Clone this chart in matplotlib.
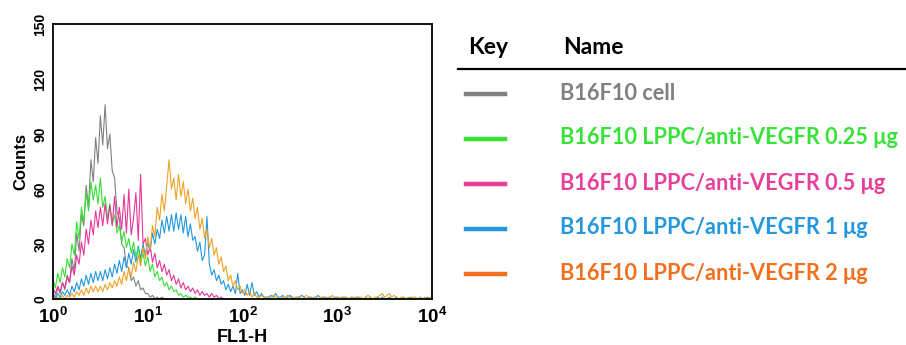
import numpy as np
import matplotlib
matplotlib.use('Agg')
from matplotlib import pyplot
from matplotlib.lines import Line2D

# FL1-H histogram counts, one value per channel (channels are 0.025 decades apart,
# starting at 10^0)
CHANNEL_STEP = 0.025

cell_counts = [
    3, 1, 6, 3, 9, 5, 13, 9, 22, 15,
    36, 26, 46, 40, 62, 50, 76, 64, 88, 74,
    100, 84, 106, 82, 90, 70, 66, 48, 44, 30,
    28, 18, 17, 10, 12, 7, 10, 5, 6, 3,
    3, 1, 2, 0, 1, 0, 1, 0, 0, 0,
]
dose_025_counts = [
    11, 6, 14, 9, 17, 12, 22, 17, 30, 24,
    42, 33, 50, 42, 58, 48, 64, 54, 62, 52,
    66, 50, 56, 44, 52, 41, 46, 36, 40, 31,
    37, 28, 33, 25, 31, 23, 28, 20, 25, 18,
    23, 15, 19, 12, 15, 10, 12, 7, 9, 5,
    7, 4, 5, 2, 3, 1, 2, 1, 1, 0,
    1, 0, 0,
]
dose_05_counts = [
    6, 3, 7, 4, 9, 6, 12, 9, 18, 13,
    24, 19, 31, 24, 38, 30, 43, 35, 48, 39,
    50, 40, 52, 41, 51, 40, 56, 39, 50, 38,
    57, 36, 60, 35, 44, 58, 32, 68, 30, 33,
    24, 29, 20, 25, 17, 21, 15, 19, 13, 16,
    10, 13, 8, 11, 6, 9, 5, 7, 4, 6,
    3, 5, 2, 4, 2, 3, 1, 3, 1, 2,
    0, 1, 0,
]
dose_1_counts = [
    2, 0, 3, 1, 4, 2, 5, 2, 7, 4,
    9, 5, 11, 7, 13, 8, 14, 9, 15, 10,
    15, 10, 16, 11, 17, 12, 19, 14, 21, 15,
    23, 17, 25, 19, 27, 20, 29, 22, 30, 24,
    31, 26, 36, 30, 38, 33, 43, 36, 45, 37,
    46, 37, 47, 38, 46, 36, 45, 34, 41, 32,
    34, 26, 31, 21, 24, 45, 19, 13, 16, 10,
    13, 8, 10, 5, 8, 4, 7, 3, 14, 3,
    5, 2, 8, 2, 9, 2, 4, 1, 3, 1,
    1, 1, 2, 1, 3, 1, 1, 2, 0, 1,
    2, 1, 0, 1, 1, 2, 1, 0, 1, 1,
    0, 1, 2, 0, 1, 1, 0, 1, 0, 1,
    1, 0, 1, 1, 0, 0, 1, 0, 1, 1,
    0, 0, 1, 0, 1, 0, 0, 1, 0, 1,
    0, 0, 1, 0, 0, 1, 0, 0, 1, 0,
    0, 1, 0, 0, 0, 1, 0, 0, 1, 0,
]
dose_2_counts = [
    1, 0, 1, 0, 2, 0, 2, 1, 3, 1,
    4, 2, 5, 2, 6, 3, 7, 4, 7, 4,
    7, 4, 8, 5, 9, 6, 10, 7, 12, 8,
    15, 10, 17, 12, 20, 15, 24, 18, 28, 22,
    34, 27, 40, 34, 50, 43, 57, 48, 62, 76,
    60, 66, 54, 68, 56, 64, 52, 60, 48, 55,
    44, 50, 38, 44, 33, 38, 28, 33, 24, 28,
    19, 23, 15, 18, 10, 13, 7, 10, 5, 7,
    3, 5, 2, 4, 1, 3, 1, 1, 2, 1,
    1, 0, 1, 2, 1, 1, 0, 1, 1, 2,
    1, 0, 1, 1, 1, 0, 1, 2, 1, 0,
    1, 1, 0, 1, 1, 0, 1, 1, 2, 0,
    1, 1, 0, 1, 1, 0, 1, 1, 0, 1,
    1, 0, 1, 2, 1, 0, 1, 1, 2, 3,
    1, 2, 3, 1, 2, 1, 0, 1, 1, 0,
    1, 0, 1, 1, 0, 1, 0, 1, 0, 1,
    0,
]

names = [
    'B16F10 cell',
    'B16F10 LPPC/anti-VEGFR 0.25 \u03bcg',
    'B16F10 LPPC/anti-VEGFR 0.5 \u03bcg',
    'B16F10 LPPC/anti-VEGFR 1 \u03bcg',
    'B16F10 LPPC/anti-VEGFR 2 \u03bcg',
]
series = [cell_counts, dose_025_counts, dose_05_counts, dose_1_counts, dose_2_counts]
line_colors = ['#808080', '#35e035', '#e8369a', '#2398de', '#f0a224']
key_colors = ['#808080', '#38e238', '#e8409a', '#2398de', '#f07020']

y_ticks = [0, 30, 60, 90, 120, 150]
x_ticks = [1, 10, 100, 1000, 10000]
x_tick_labels = [r'$\mathbf{10^{%d}}$' % k for k in range(5)]

matplotlib.rcParams['mathtext.fontset'] = 'custom'
matplotlib.rcParams['mathtext.bf'] = 'Liberation Sans:bold'
matplotlib.rcParams['mathtext.rm'] = 'Liberation Sans:bold'

fig = pyplot.figure(figsize=(9.06, 3.45), dpi=100)
ax = fig.add_axes([0.0585, 0.1333, 0.4183, 0.7971])

# gray at the back, the 2 ug histogram on top
draw_order = [0, 3, 1, 2, 4]
for i in draw_order:
    counts = series[i]
    fl1 = 10 ** (CHANNEL_STEP * np.arange(len(counts)))
    ax.plot(fl1, counts, color=line_colors[i], linewidth=0.8)

ax.set_xscale('log')
ax.set_xlim(1, 10000)
ax.set_ylim(0, 150)
ax.set_xticks(x_ticks)
ax.set_xticklabels(x_tick_labels, fontsize=13.5)
ax.xaxis.set_minor_locator(matplotlib.ticker.NullLocator())
ax.set_yticks(y_ticks)
ax.set_yticklabels([str(v) for v in y_ticks], rotation=90, va='center',
                   fontsize=10, fontfamily='Liberation Sans', fontweight='bold')
ax.tick_params(axis='both', length=0)
ax.tick_params(axis='x', pad=6)
ax.tick_params(axis='y', pad=4)
for spine in ax.spines.values():
    spine.set_linewidth(1.3)
ax.set_xlabel('FL1-H', fontsize=13, fontfamily='Liberation Sans',
              fontweight='bold', labelpad=1)
ax.set_ylabel('Counts', fontsize=12, fontfamily='Liberation Sans',
              fontweight='bold', labelpad=4)

# key table on the right, laid out in pixel units
key = fig.add_axes([0, 0, 1, 1])
key.set_xlim(0, 906)
key.set_ylim(345, 0)
key.set_axis_off()
font = ['Lato', 'DejaVu Sans']
key.text(468, 48, 'Key', fontsize=16.5, fontweight='bold', family=font,
         va='center', ha='left', color='black')
key.text(563, 48, 'Name', fontsize=16.5, fontweight='bold', family=font,
         va='center', ha='left', color='black')
key.add_line(Line2D([458, 906], [69, 69], color='black', linewidth=1.6))
row_y = [93, 138, 183, 228, 273]
for name, kc, y in zip(names, key_colors, row_y):
    key.add_line(Line2D([466, 505], [y + 1, y + 1], color=kc, linewidth=3.2))
    key.text(560, y, name, fontsize=15.7, fontweight='bold', family=font,
             va='center', ha='left', color=kc)

fig.savefig('out.png', dpi=100)
